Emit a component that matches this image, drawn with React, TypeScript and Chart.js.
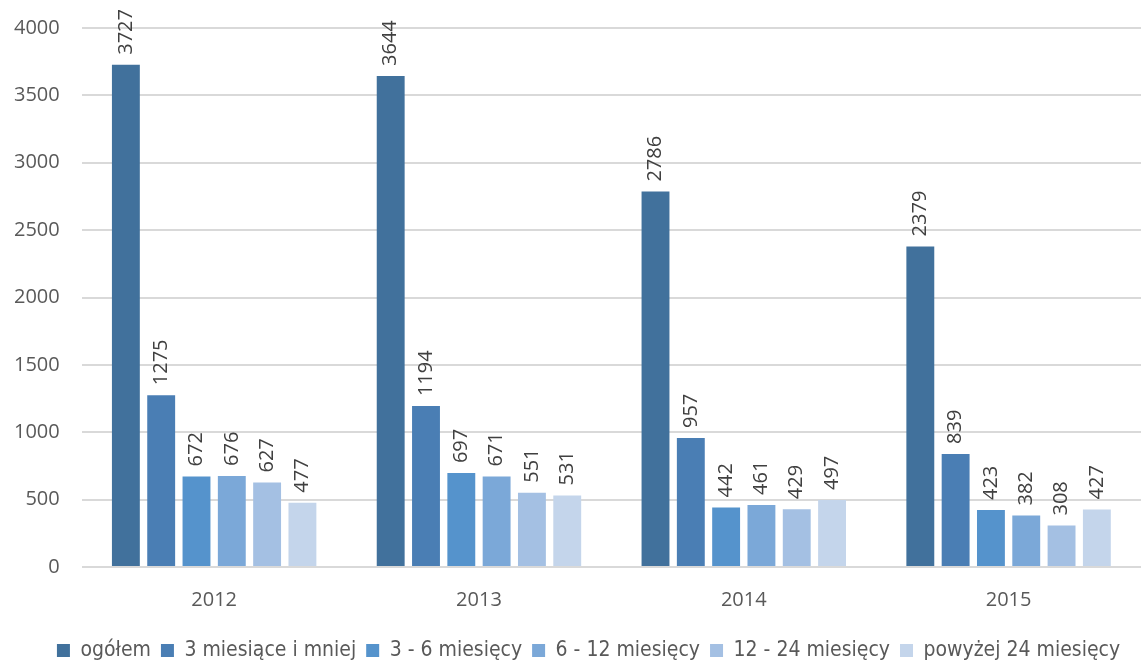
import React, { useEffect, useRef } from "react";
import { Chart, registerables } from "chart.js";

Chart.register(...registerables);

const categories = ["2012", "2013", "2014", "2015"];
const seriesNames = ["ogółem", "3 miesiące i mniej", "3 - 6 miesięcy", "6 - 12 miesięcy", "12 - 24 miesięcy", "powyżej 24 miesięcy"];
const ogolem = [3727, 3644, 2786, 2379];
const do3 = [1275, 1194, 957, 839];
const od3do6 = [672, 697, 442, 423];
const od6do12 = [676, 671, 461, 382];
const od12do24 = [627, 551, 429, 308];
const powyzej24 = [477, 531, 497, 427];
const colors = ["#41719C", "#4A7EB4", "#5593CC", "#7BA8D8", "#A4C0E3", "#C4D5EB"];
const yTicks = [0, 500, 1000, 1500, 2000, 2500, 3000, 3500, 4000];

const labelPlugin = {
  id: "valLabels",
  afterLayout(chart: any) {
    if (chart.legend) {
      chart.legend.left += 22;
      chart.legend.right += 22;
    }
  },
  afterDatasetsDraw(chart: any) {
    const ctx = chart.ctx;
    ctx.save();
    ctx.fillStyle = "#404040";
    ctx.font = "20px 'Open Sans', sans-serif";
    ctx.textAlign = "left";
    ctx.textBaseline = "middle";
    chart.data.datasets.forEach((ds: any, i: number) => {
      const meta = chart.getDatasetMeta(i);
      meta.data.forEach((el: any, j: number) => {
        ctx.save();
        ctx.translate(el.x, el.y - 10);
        ctx.rotate(-Math.PI / 2);
        ctx.fillText(String(ds.data[j]), 0, 0);
        ctx.restore();
      });
    });
    ctx.restore();
  },
};

export default function App() {
  const ref = useRef<HTMLCanvasElement>(null);
  useEffect(() => {
    const all = [ogolem, do3, od3do6, od6do12, od12do24, powyzej24];
    const chart = new Chart(ref.current!, {
      type: "bar",
      data: {
        labels: categories,
        datasets: all.map((d, i) => ({
          label: seriesNames[i],
          data: d,
          backgroundColor: colors[i],
          categoryPercentage: 0.8,
          barPercentage: 0.79,
        })),
      },
      options: {
        animation: false,
        responsive: false,
        maintainAspectRatio: false,
        layout: { padding: { top: 28, right: 0, left: -8, bottom: -7 } },
        plugins: {
          legend: {
            position: "bottom",
            labels: {
              boxWidth: 13,
              boxHeight: 13,
              padding: 10,
              color: "#595959",
              font: { size: 21, family: "'Liberation Sans Narrow', 'DejaVu Sans Condensed', sans-serif" },
            },
          },
          tooltip: { enabled: false },
        },
        scales: {
          x: {
            grid: { display: false },
            border: { display: false },
            afterFit: (axis: any) => {
              axis.height += 5;
            },
            ticks: { color: "#595959", font: { size: 20, family: "'Open Sans', sans-serif" }, padding: 13 },
          },
          y: {
            min: 0,
            max: 4000,
            afterBuildTicks: (axis: any) => {
              axis.ticks = yTicks.map((v) => ({ value: v }));
            },
            afterFit: (axis: any) => {
              axis.paddingTop = 0;
            },
            grid: { color: "#d9d9d9", lineWidth: 2, drawTicks: false },
            border: { display: false },
            ticks: {
              color: "#595959",
              font: { size: 20, family: "'Open Sans', sans-serif" },
              padding: 22,
              callback: (v: any) => String(v),
            },
          },
        },
      },
      plugins: [labelPlugin],
    });
    return () => chart.destroy();
  }, []);
  return (
    <div style={{ position: "fixed", left: 0, top: 0, width: 1141, height: 664, background: "#fff" }}>
      <canvas ref={ref} width={1141} height={664} />
    </div>
  );
}
